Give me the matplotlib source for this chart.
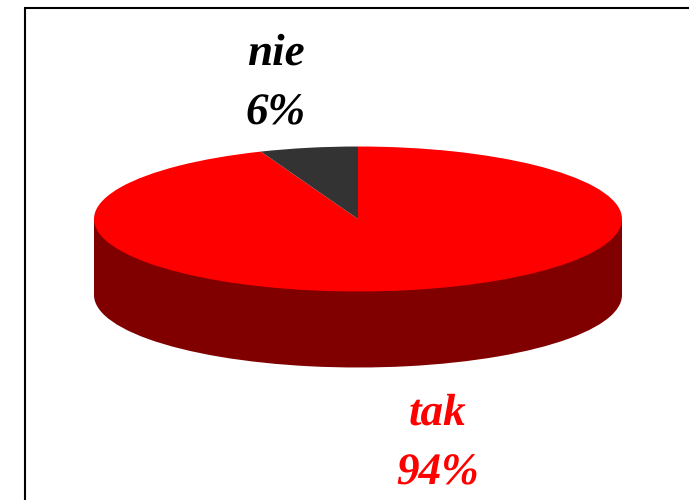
import matplotlib
matplotlib.use("Agg")
import matplotlib.pyplot as plt

plt.rcParams['text.hinting'] = 'no_hinting'

# Data
labels = ['tak', 'nie']
values = [94, 6]
top_colors = ['#ff0000', '#333333']
side_color = '#800000'

W, H = 689, 500
# pixel geometry of the frame and the pie
frame_l, frame_t = 24.5, 7.5
frame_r, frame_b = 760, 560
cx, cy = 358, 219
rx, ry, depth = 264, 72.5, 76

fig = plt.figure(figsize=(W / 100, H / 100), dpi=100)
ax = fig.add_axes([frame_l / W, 1 - frame_b / H,
                   (frame_r - frame_l) / W, (frame_b - frame_t) / H])

# side of the pie first, then the top on it
d = depth / ry
ax.pie(values, colors=[side_color] * 2, startangle=90, counterclock=False,
       center=(0, -d), radius=1, frame=True)
ax.add_patch(plt.Rectangle((-1, -d), 2, d, color=side_color, lw=0))
ax.pie(values, colors=top_colors, startangle=90, counterclock=False,
       center=(0, 0), radius=1, frame=True)

ax.set_aspect('auto')
ax.set_xlim((frame_l - cx) / rx, (frame_r - cx) / rx)
ax.set_ylim((cy - frame_b) / ry, (cy - frame_t) / ry)
ax.set_xticks([])
ax.set_yticks([])
for s in ax.spines.values():
    s.set_linewidth(1.5)
    s.set_color('black')
    s.set_capstyle('butt')

# labels, in figure pixels
font = dict(family='Liberation Serif', weight='bold', style='italic', size=32.5,
            ha='center', va='baseline')
label_pos = {'nie': (276, 65, 124, 'black'), 'tak': (437.5, 425, 484, '#ff0000')}
for name, val in zip(labels, values):
    x, y1, y2, col = label_pos[name]
    fig.text(x / W, 1 - y1 / H, name, color=col, **font)
    fig.text(x / W, 1 - y2 / H, f'{val}%', color=col, **font)

fig.savefig('out.png', dpi=100)
